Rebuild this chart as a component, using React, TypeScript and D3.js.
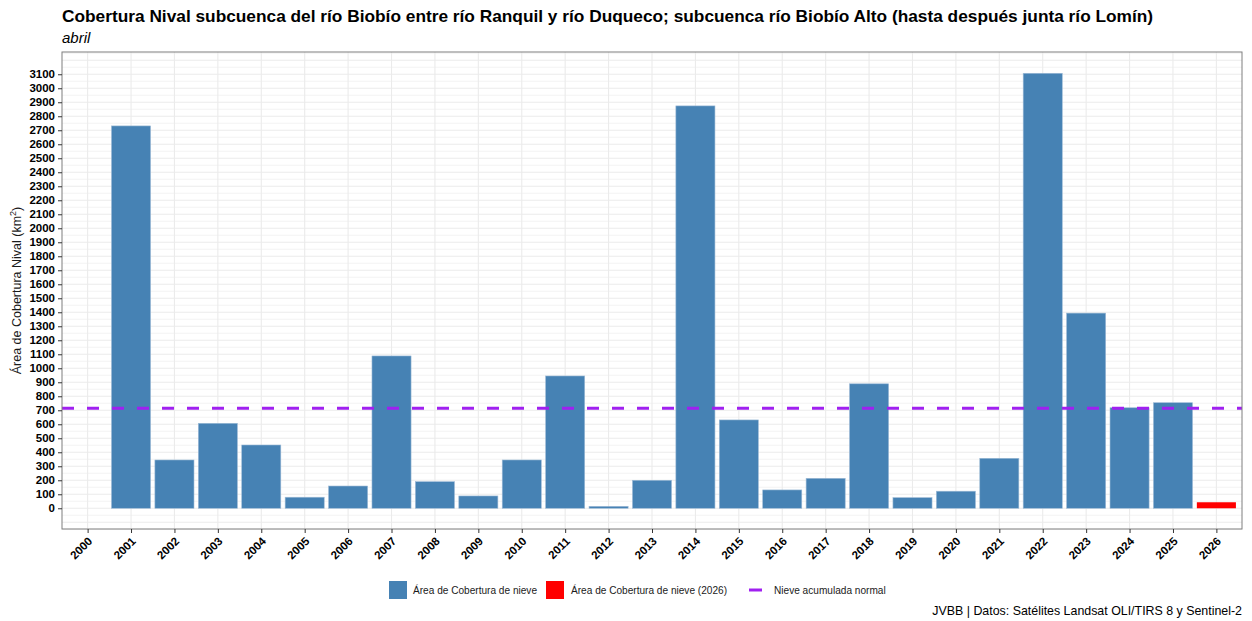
import React, { useEffect, useRef } from 'react';
import * as d3 from 'd3';

// snow cover area per year (km2), april
const years = [2001, 2002, 2003, 2004, 2005, 2006, 2007, 2008, 2009, 2010, 2011, 2012, 2013,
  2014, 2015, 2016, 2017, 2018, 2019, 2020, 2021, 2022, 2023, 2024, 2025];
const areas = [2731, 345, 607, 452, 79, 159, 1088, 190, 88, 345, 945, 14, 200,
  2874, 631, 131, 214, 889, 76, 122, 357, 3107, 1394, 718, 754];
const currentYear = [2026];
const currentArea = [43];
const normalValue = 714;
const xTicks = d3.range(2000, 2027);
const yTicks = d3.range(0, 3101, 100);
const yMinor = d3.range(-150, 3251, 50);

const FONT = '"Liberation Sans", Arial, sans-serif';

const App = () => {
  const svgRef = useRef<SVGSVGElement>(null);

  useEffect(() => {
    const W = 1252, H = 621;
    const panel = { left: 62, top: 52, right: 1242, bottom: 529 };

    const svg = d3.select(svgRef.current)
      .attr('width', W)
      .attr('height', H)
      .style('font-family', FONT);
    svg.selectAll('*').remove();

    const x = d3.scaleLinear().domain([1999.41, 2026.59]).range([panel.left, panel.right]);
    const y = d3.scaleLinear().domain([-148, 3259]).range([panel.bottom, panel.top]);

    svg.append('rect').attr('width', W).attr('height', H).attr('fill', 'white');

    // grid
    const grid = svg.append('g');
    grid.selectAll('line.minor')
      .data(yMinor)
      .join('line')
      .attr('x1', panel.left).attr('x2', panel.right)
      .attr('y1', d => y(d)).attr('y2', d => y(d))
      .attr('stroke', '#ebebeb')
      .attr('stroke-width', d => (d % 100 === 0 ? 1.1 : 0.6));
    grid.selectAll('line.v')
      .data(xTicks)
      .join('line')
      .attr('x1', d => x(d)).attr('x2', d => x(d))
      .attr('y1', panel.top).attr('y2', panel.bottom)
      .attr('stroke', '#ebebeb')
      .attr('stroke-width', 1.1);

    const bw = x(0.9) - x(0);

    // bars
    svg.append('g')
      .selectAll('rect')
      .data(years.map((yr, i) => ({ yr, v: areas[i] })))
      .join('rect')
      .attr('x', d => x(d.yr) - bw / 2)
      .attr('width', bw)
      .attr('y', d => y(d.v))
      .attr('height', d => y(0) - y(d.v))
      .attr('fill', '#4682B4')
      .attr('stroke', '#9dbad6')
      .attr('stroke-width', 0.6);

    svg.append('g')
      .selectAll('rect')
      .data(currentYear.map((yr, i) => ({ yr, v: currentArea[i] })))
      .join('rect')
      .attr('x', d => x(d.yr) - bw / 2)
      .attr('width', bw)
      .attr('y', d => y(d.v))
      .attr('height', d => y(0) - y(d.v))
      .attr('fill', '#FF0000');

    // normal line
    svg.append('line')
      .attr('x1', panel.left).attr('x2', panel.right)
      .attr('y1', y(normalValue)).attr('y2', y(normalValue))
      .attr('stroke', '#A020F0')
      .attr('stroke-width', 3)
      .attr('stroke-dasharray', '12,13');

    // panel border
    svg.append('rect')
      .attr('x', panel.left).attr('y', panel.top)
      .attr('width', panel.right - panel.left)
      .attr('height', panel.bottom - panel.top)
      .attr('fill', 'none')
      .attr('stroke', '#7f7f7f')
      .attr('stroke-width', 1);

    // y axis
    svg.append('g')
      .attr('transform', `translate(${panel.left},0)`)
      .call(d3.axisLeft(y).tickValues(yTicks).tickSize(4).tickPadding(3).tickFormat(d3.format('d')))
      .call(g => g.select('.domain').remove())
      .call(g => g.selectAll('line').attr('stroke', '#333'))
      .call(g => g.selectAll('text')
        .attr('fill', 'black')
        .style('font-family', FONT)
        .style('font-size', '11.5px')
        .style('font-weight', 'bold'));

    // x axis
    svg.append('g')
      .attr('transform', `translate(0,${panel.bottom})`)
      .call(d3.axisBottom(x).tickValues(xTicks).tickSize(4).tickFormat(d3.format('d')))
      .call(g => g.select('.domain').remove())
      .call(g => g.selectAll('line').attr('stroke', '#333'))
      .call(g => g.selectAll('text')
        .attr('fill', 'black')
        .attr('dy', null)
        .attr('y', 0)
        .attr('text-anchor', 'end')
        .attr('transform', 'translate(5,13) rotate(-45)')
        .style('font-family', FONT)
        .style('font-size', '11.5px')
        .style('font-weight', 'bold'));

    // y axis title
    const yt = svg.append('text')
      .attr('transform', `translate(21,${(panel.top + panel.bottom) / 2}) rotate(-90)`)
      .attr('text-anchor', 'middle')
      .style('font-size', '12.5px')
      .attr('fill', '#1a1a1a');
    yt.append('tspan').text('Área de Cobertura Nival (km');
    yt.append('tspan').text('2').attr('dy', -5).style('font-size', '9px');
    yt.append('tspan').text(')').attr('dy', 5);

    // title
    svg.append('text')
      .attr('x', panel.left).attr('y', 22)
      .style('font-size', '17.3px')
      .style('font-weight', 'bold')
      .attr('fill', 'black')
      .text('Cobertura Nival subcuenca del río Biobío entre río Ranquil y río Duqueco; subcuenca río Biobío Alto (hasta después junta río Lomín)');
    svg.append('text')
      .attr('x', panel.left).attr('y', 43)
      .style('font-size', '15px')
      .style('font-style', 'italic')
      .attr('fill', 'black')
      .text('abril');

    // legend
    const lg = svg.append('g').style('font-size', '10.1px').attr('fill', '#1a1a1a');
    lg.append('rect').attr('x', 389).attr('y', 581).attr('width', 18).attr('height', 18).attr('fill', '#4682B4');
    lg.append('text').attr('x', 413).attr('y', 594).text('Área de Cobertura de nieve');
    lg.append('rect').attr('x', 546).attr('y', 581).attr('width', 18).attr('height', 18).attr('fill', '#FF0000');
    lg.append('text').attr('x', 571).attr('y', 594).text('Área de Cobertura de nieve (2026)');
    lg.append('line').attr('x1', 749).attr('x2', 762).attr('y1', 590).attr('y2', 590)
      .attr('stroke', '#A020F0').attr('stroke-width', 3);
    lg.append('text').attr('x', 774).attr('y', 594).text('Nieve acumulada normal');

    // caption
    svg.append('text')
      .attr('x', panel.right).attr('y', 615)
      .attr('text-anchor', 'end')
      .style('font-size', '12.4px')
      .attr('fill', 'black')
      .text('JVBB | Datos: Satélites Landsat OLI/TIRS 8 y Sentinel-2');
  }, []);

  return (
    <div style={{ position: 'absolute', left: 0, top: 0 }}>
      <svg ref={svgRef}></svg>
    </div>
  );
};

export default App;
